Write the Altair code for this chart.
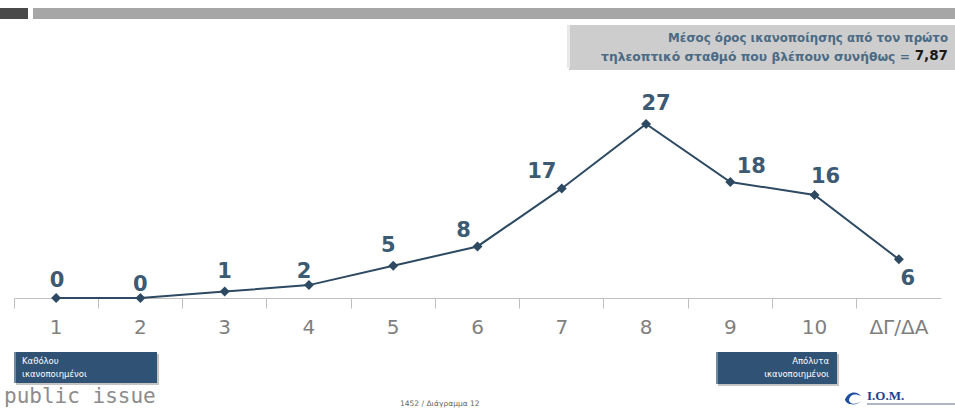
import altair as alt
import pandas as pd

categories = ["1", "2", "3", "4", "5", "6", "7", "8", "9", "10", "ΔΓ/ΔΑ"]
values = [0, 0, 1, 2, 5, 8, 17, 27, 18, 16, 6]

# label offsets (style only, px)
label_dx = [1, 0, 0, -5, -5, -14, -20, 10, 21, 11, 9]
label_dy = [-17, -13, -20, -13, -20, -15, -16, -20, -15, -18, 20]

df = pd.DataFrame({"cat": categories, "value": values})

LEFT = 14
W, H = 927, 298
YMAX = 298 * 27 / 174

xenc = alt.X(
    "cat:N", sort=categories,
    scale=alt.Scale(type="band", paddingInner=0, paddingOuter=0),
    axis=alt.Axis(title=None, labelAngle=0, bandPosition=0,
                  domainColor="#bfbfbf", tickColor="#bfbfbf", tickSize=10,
                  labelFontSize=20, labelColor="#7f7f7f", labelFont="DejaVu Sans",
                  labelPadding=9, grid=False),
)
yenc = alt.Y("value:Q", scale=alt.Scale(domain=[0, YMAX], nice=False, zero=True), axis=None)

base = alt.Chart(df)
line = base.mark_line(color="#2e4a62", strokeWidth=2).encode(x=xenc, y=yenc)
pts = base.mark_point(shape="diamond", filled=True, size=100, color="#2e4a62", opacity=1).encode(x=xenc, y=yenc)

labels = []
for c, dx, dy in zip(categories, label_dx, label_dy):
    labels.append(
        base.transform_filter(alt.datum.cat == c)
        .mark_text(dx=dx, dy=dy, fontSize=21, fontWeight="bold", font="DejaVu Sans", color="#3d5a73")
        .encode(x=xenc, y=yenc, text="value:Q")
    )

deco = pd.DataFrame({"a": [0]})
dch = alt.Chart(deco)

def rect(x1, y1, x2, y2, color, **kw):
    return dch.mark_rect(color=color, **kw).encode(
        x=alt.value(x1 - LEFT), x2=alt.value(x2 - LEFT), y=alt.value(y1), y2=alt.value(y2))

def text(t, x, y, **kw):
    return dch.mark_text(text=t, **kw).encode(x=alt.value(x - LEFT), y=alt.value(y))

layers = [
    rect(0, 8, 28, 19, "#4a4a4a"),
    rect(33, 8, 955, 19, "#a6a6a6"),
    rect(569, 27, 955, 70, "#9a9a9a", opacity=0.5),
    rect(567, 25, 955, 68, "#cdcdcd"),
    rect(567, 25, 570, 68, "#e8e8e8"),
    text("Μέσος όρος ικανοποίησης από τον πρώτο", 948, 38, align="right", baseline="middle",
         fontSize=11.8, fontWeight="bold", font="DejaVu Sans", color="#4b6a84"),
    text("τηλεοπτικό σταθμό που βλέπουν συνήθως =", 910, 57, align="right", baseline="middle",
         fontSize=12.3, fontWeight="bold", font="DejaVu Sans", color="#4b6a84"),
    text("7,87", 948, 56, align="right", baseline="middle",
         fontSize=13.5, fontWeight="bold", font="DejaVu Sans", color="#1a1a1a"),
    rect(16, 354, 159, 385, "#8a8a8a", opacity=0.5),
    rect(14, 352, 157, 383, "#2f5275"),
    rect(14, 352, 16, 383, "#6f8aa5"),
    text("Καθόλου", 22, 361, align="left", baseline="middle", fontSize=8.5, font="DejaVu Sans", color="white"),
    text("ικανοποιημένοι", 22, 374, align="left", baseline="middle", fontSize=8.5, font="DejaVu Sans", color="white"),
    rect(718, 354, 839, 386, "#8a8a8a", opacity=0.5),
    rect(716, 352, 837, 384, "#2f5275"),
    rect(716, 352, 718, 384, "#6f8aa5"),
    text("Απόλυτα", 829, 361, align="right", baseline="middle", fontSize=8.5, font="DejaVu Sans", color="white"),
    text("ικανοποιημένοι", 829, 374, align="right", baseline="middle", fontSize=8.5, font="DejaVu Sans", color="white"),
    text("public issue", 4, 403, align="left", baseline="alphabetic", fontSize=21, font="DejaVu Sans Mono", color="#8c8c8c"),
    text("1452 / Διάγραμμα 12", 400, 404, align="left", baseline="middle", fontSize=7.5, font="DejaVu Sans", color="#666666"),
    dch.mark_point(shape="M -1 0.2 C -0.6 -0.9 0.6 -0.9 1 -0.2 C 0.4 -0.6 -0.4 -0.5 -0.5 0.3 C -0.3 0.9 0.6 0.8 1 0.3 C 0.6 1 -0.8 1 -1 0.2 Z",
                   filled=True, color="#1f4fa0", size=260, opacity=1).encode(x=alt.value(853 - LEFT), y=alt.value(398)),
    text("I.O.M.", 867, 396, align="left", baseline="middle", fontSize=13, fontWeight="bold", font="Liberation Serif", color="#1f3f8f"),
    rect(867, 403, 955, 405, "#b0b8c8"),
]

chart = alt.layer(line, pts, *labels, *layers).properties(
    width=W, height=H,
    autosize=alt.AutoSizeParams(type="none"),
    padding={"left": LEFT, "top": 0, "right": 955 - LEFT - W, "bottom": 409 - H},
    background="white",
).configure_view(stroke=None)

chart.save("out.html", embed_options={"renderer": "svg", "actions": False})
